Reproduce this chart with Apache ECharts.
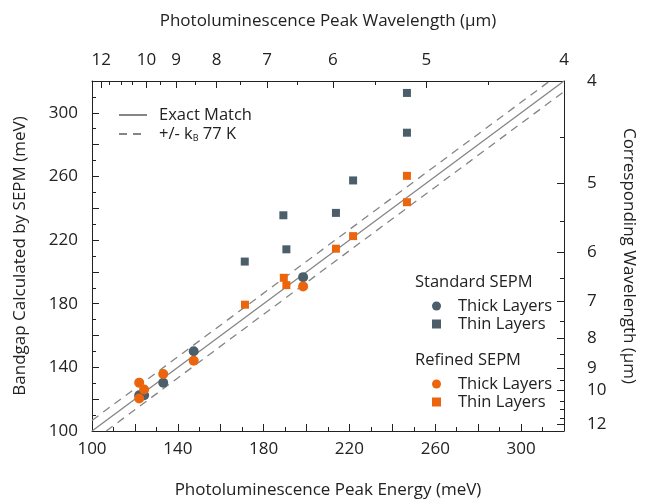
<!DOCTYPE html>
<html>
<head>
<meta charset="utf-8">
<script src="https://cdn.jsdelivr.net/npm/echarts@6/dist/echarts.min.js"></script>
<style>html,body{margin:0;padding:0;background:#fff}#c{width:645px;height:504px}</style>
</head>
<body>
<div id="c"></div>
<script>
// ---- data ----
const stdThick = [[122.0,122.5],[124.3,122.5],[133.2,130.3],[147.4,150.1],[198.4,196.7]];
const stdThin  = [[171.2,206.5],[189.2,235.6],[190.6,214.2],[213.7,237.1],[221.7,257.5],[246.8,312.5],[246.8,287.5]];
const refThick = [[122.0,130.4],[124.3,126.1],[122.0,120.4],[133.2,135.8],[147.4,144.2],[198.4,190.9]];
const refThin  = [[171.3,179.4],[189.4,196.3],[190.6,191.7],[213.7,214.6],[221.7,222.5],[246.8,260.4],[246.8,243.8]];
// wavelength axis (µm) and their positions in energy (meV)
const wlMajor = [12,10,9,8,7,6,5,4];
const wlMajorE = [104.3,125.4,139.2,158.1,181.6,212.3,255.8,320];
const wlMinor = [11.5,11,10.5,9.5,8.5,7.5,6.5,5.5,4.5];
const wlMinorE = [108.2,113.6,118.9,132.0,148.2,168.9,195.8,231.8,284.9];
const kT = 6.64; // k_B * 77 K in meV
const axMin = 100, axMax = 320;

const DARK = '#4b5e69', ORANGE = '#eb650e', TXT = '#222';
const FONT = 'Open Sans';
const TICK_FS = 17, NAME_FS = 17, LEG_FS = 16.5;

function wlLabel(v){
  let best = 0, d = 1e9;
  wlMajorE.forEach((e,i)=>{ if(Math.abs(e-v)<d){d=Math.abs(e-v);best=i;} });
  return String(wlMajor[best]);
}
const engLabel = v => ((v-axMin)%40===0 ? String(v) : '');

const chart = echarts.init(document.getElementById('c'), null, {renderer:'canvas'});
const baseAxis = {
  type:'value', min:axMin, max:axMax,
  axisLine:{show:true, onZero:false, lineStyle:{color:'#222', width:1}},
  splitLine:{show:false}
};
chart.setOption({
  animation:false,
  textStyle:{fontFamily:FONT},
  grid:{left:92, right:75, top:81, bottom:71, containLabel:false},
  xAxis:[
    Object.assign({}, baseAxis, {position:'bottom', interval:20,
      axisTick:{show:true, inside:true, length:7, lineStyle:{color:'#222'}},
      minorTick:{show:true, splitNumber:2, length:4, lineStyle:{color:'#222'}},
      axisLabel:{formatter:engLabel, fontSize:TICK_FS, color:TXT, margin:10, fontFamily:FONT},
      name:'Photoluminescence Peak Energy (meV)', nameLocation:'middle', nameGap:51,
      nameTextStyle:{fontSize:NAME_FS, color:TXT, fontFamily:FONT}}),
    Object.assign({}, baseAxis, {position:'top',
      axisTick:{show:true, inside:true, length:7, customValues:wlMajorE, lineStyle:{color:'#222'}},
      axisLabel:{show:true, customValues:wlMajorE, formatter:wlLabel, fontSize:TICK_FS, color:TXT, margin:12, fontFamily:FONT},
      name:'Photoluminescence Peak Wavelength (μm)', nameLocation:'middle', nameGap:51,
      nameTextStyle:{fontSize:NAME_FS, color:TXT, fontFamily:FONT}}),
    Object.assign({}, baseAxis, {position:'top', axisLine:{show:false},
      axisTick:{show:true, inside:true, length:4, customValues:wlMinorE, lineStyle:{color:'#222'}},
      axisLabel:{show:false}})
  ],
  yAxis:[
    Object.assign({}, baseAxis, {position:'left', interval:20,
      axisTick:{show:true, inside:true, length:7, lineStyle:{color:'#222'}},
      minorTick:{show:true, splitNumber:2, length:4, lineStyle:{color:'#222'}},
      axisLabel:{formatter:engLabel, fontSize:TICK_FS, color:TXT, margin:14, fontFamily:FONT},
      name:'Bandgap Calculated by SEPM (meV)', nameLocation:'middle', nameGap:63, nameRotate:90,
      nameTextStyle:{fontSize:NAME_FS, color:TXT, fontFamily:FONT}}),
    Object.assign({}, baseAxis, {position:'right',
      axisTick:{show:true, inside:true, length:7, customValues:wlMajorE, lineStyle:{color:'#222'}},
      axisLabel:{show:true, customValues:wlMajorE, formatter:wlLabel, fontSize:TICK_FS, color:TXT, margin:23, fontFamily:FONT},
      name:'Corresponding Wavelength (μm)', nameLocation:'middle', nameGap:56, nameRotate:-90,
      nameTextStyle:{fontSize:NAME_FS, color:TXT, fontFamily:FONT}}),
    Object.assign({}, baseAxis, {position:'right', axisLine:{show:false},
      axisTick:{show:true, inside:true, length:4, customValues:wlMinorE, lineStyle:{color:'#222'}},
      axisLabel:{show:false}})
  ],
  legend:[
    {data:['Exact Match','kB'], orient:'vertical', left:113, top:101, itemWidth:28, itemHeight:12, itemGap:1,
     itemStyle:{opacity:0},
     formatter: n => n==='kB' ? '+/- k{sub|B} 77 K' : n,
     textStyle:{fontSize:LEG_FS, color:TXT, fontFamily:FONT, lineHeight:18, padding:[0,0,0,7],
       rich:{sub:{fontSize:9, color:TXT, fontFamily:FONT, padding:[9,0,0,0]}}}},
    {data:['StdThick','StdThin'], orient:'vertical', left:427, top:292, itemWidth:9, itemHeight:9, itemGap:0,
     formatter: n => n==='StdThick' ? 'Thick Layers' : 'Thin Layers',
     textStyle:{fontSize:LEG_FS, color:TXT, fontFamily:FONT, lineHeight:18, padding:[0,0,0,12]}},
    {data:['RefThick','RefThin'], orient:'vertical', left:427, top:370, itemWidth:9, itemHeight:9, itemGap:0,
     formatter: n => n==='RefThick' ? 'Thick Layers' : 'Thin Layers',
     textStyle:{fontSize:LEG_FS, color:TXT, fontFamily:FONT, lineHeight:18, padding:[0,0,0,12]}}
  ],
  graphic:[
    {type:'text', left:415, top:274, style:{text:'Standard SEPM', fontSize:LEG_FS, fill:TXT, fontFamily:FONT}},
    {type:'text', left:415, top:352, style:{text:'Refined SEPM', fontSize:LEG_FS, fill:TXT, fontFamily:FONT}}
  ],
  series:[
    {name:'Exact Match', type:'line', symbol:'none', clip:true, data:[[axMin,axMin],[axMax,axMax]],
     lineStyle:{color:'#858585', width:1.3}, itemStyle:{color:'#858585'}, z:1},
    {name:'kB', type:'line', symbol:'none', clip:true, data:[[axMin,axMin+kT],[axMax-kT,axMax]],
     lineStyle:{color:'#858585', width:1.3, type:[8,6]}, itemStyle:{color:'#858585'}, z:1},
    {name:'kB', type:'line', symbol:'none', clip:true, data:[[axMin+kT,axMin],[axMax,axMax-kT]],
     lineStyle:{color:'#858585', width:1.3, type:[8,6]}, itemStyle:{color:'#858585'}, z:1},
    {name:'StdThick', type:'scatter', symbol:'circle', symbolSize:10, data:stdThick, itemStyle:{color:DARK, opacity:1}, z:3},
    {name:'StdThin', type:'scatter', symbol:'rect', symbolSize:8, data:stdThin, itemStyle:{color:DARK, opacity:1}, z:3},
    {name:'RefThick', type:'scatter', symbol:'circle', symbolSize:10, data:refThick, itemStyle:{color:ORANGE, opacity:1}, z:4},
    {name:'RefThin', type:'scatter', symbol:'rect', symbolSize:8, data:refThin, itemStyle:{color:ORANGE, opacity:1}, z:4}
  ]
});
</script>
</body>
</html>
